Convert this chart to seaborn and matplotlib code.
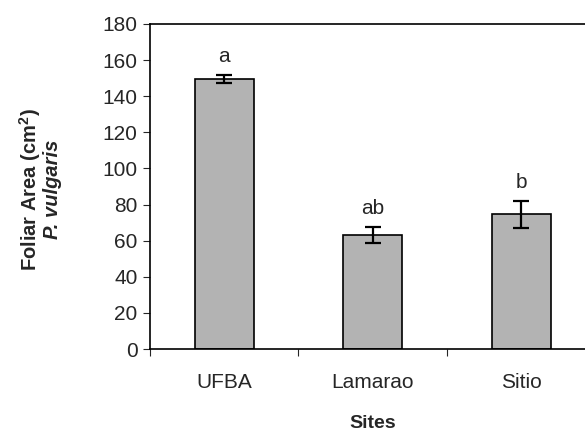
import pandas as pd
import numpy as np
import matplotlib
matplotlib.use("Agg")
import matplotlib.pyplot as plt
import seaborn as sns

# values
sites = ["UFBA", "Lamarao", "Sitio"]
foliar_area = [149.5, 63.0, 74.5]
std_err = [2.0, 4.5, 7.5]
letters = ["a", "ab", "b"]

sns.set_style("white")
plt.rcParams["font.family"] = ["Liberation Sans", "DejaVu Sans"]
plt.rcParams["mathtext.fontset"] = "custom"
plt.rcParams["mathtext.rm"] = "Liberation Sans:bold"

df = pd.DataFrame({"Site": sites, "Area": foliar_area})

fig = plt.figure(figsize=(5.85, 4.36), dpi=100)
# right spine sits beyond the image edge in the reference
ax = fig.add_axes([0.2564, 0.1995, 0.7615, 0.7455])

sns.barplot(data=df, x="Site", y="Area", color="#b3b3b3", width=0.4,
            edgecolor="black", linewidth=1.2, saturation=1, ax=ax)
ax.errorbar(np.arange(len(sites)), foliar_area, yerr=std_err, fmt="none",
            ecolor="black", elinewidth=1.6, capsize=6, capthick=1.6)

for i, (v, e, t) in enumerate(zip(foliar_area, std_err, letters)):
    ax.text(i, v + e + 5, t, ha="center", va="bottom", fontsize=15)

ax.set_xlim(-0.5, 2.5)
ax.set_ylim(0, 180)
ax.set_yticks(range(0, 181, 20))
ax.tick_params(axis="y", labelsize=15, length=5, width=0.8, direction="out",
               left=True, pad=4)
ax.set_xticks(range(len(sites)))
ax.set_xticklabels(sites, fontsize=15)
ax.tick_params(axis="x", which="major", length=0, pad=17)
ax.set_xticks([-0.5, 0.5, 1.5, 2.5], minor=True)
ax.tick_params(axis="x", which="minor", length=5, width=0.8, direction="out",
               bottom=True)

for s in ax.spines.values():
    s.set_color("black")
    s.set_linewidth(1.2)

ax.set_xlabel("Sites", fontsize=14, fontweight="bold", labelpad=17)
ax.set_ylabel("")
# two-line y label: plain bold line plus bold italic species name
ax.text(-0.269, 0.49, "Foliar Area (cm$^{2}$)", transform=ax.transAxes,
        rotation=90, ha="center", va="center", fontsize=14.5, fontweight="bold")
ax.text(-0.218, 0.49, "P. vulgaris", transform=ax.transAxes,
        rotation=90, ha="center", va="center", fontsize=14.5,
        fontweight="bold", fontstyle="italic")

fig.savefig("out.png", dpi=100, facecolor="white")
